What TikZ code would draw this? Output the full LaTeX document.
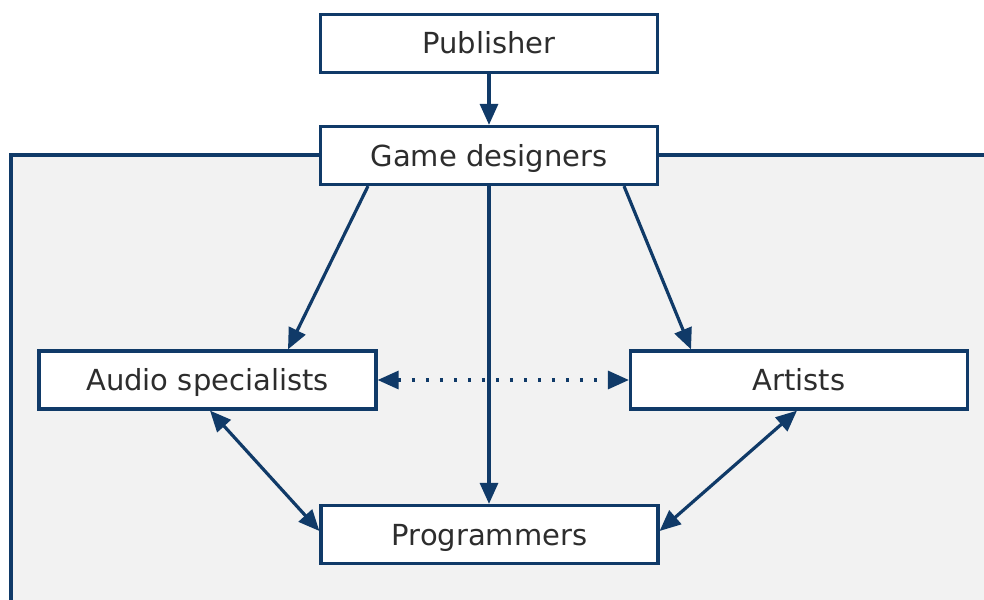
\documentclass[tikz,border=0pt]{standalone}
\usepackage{fontspec}
\setmainfont{DejaVu Sans}
\usetikzlibrary{arrows.meta}
\definecolor{navy}{RGB}{16,58,104}
\definecolor{panel}{RGB}{242,242,242}
\definecolor{ink}{RGB}{45,45,45}
\begin{document}
\begin{tikzpicture}[x=1pt,y=-1pt,
  role/.style={draw=navy, line width=3.2pt, fill=white, rectangle,
    minimum width=337pt, minimum height=58pt, inner sep=0pt,
    text height=22pt, text depth=1pt,
    text=ink, font=\fontsize{29}{33}\selectfont},
  tip/.tip={Triangle[length=21pt,width=18pt]},
  link/.style={draw=navy, line width=3.2pt, -tip},
  both/.style={draw=navy, line width=3.2pt, tip-tip}
]
\useasboundingbox (0,0) rectangle (984,599);
% studio panel behind the team
\fill[panel] (11,155) rectangle (990,605);
\draw[navy, line width=3.2pt] (990,155) -- (11,155) -- (11,605);

\node[role] (pub)  at (489,43.5)  {Publisher};
\node[role] (gd)   at (489,155.5) {Game designers};
\node[role] (aud)  at (207.5,380) {Audio specialists};
\node[role] (art)  at (799,380)   {Artists};
\node[role] (prog) at (489.5,534.5) {Programmers};

\draw[link] (pub.south) -- (gd.north);
\draw[link] ([xshift=-121pt]gd.south) -- ([xshift=80.5pt]aud.north);
\draw[link] ([xshift=135pt]gd.south) -- ([xshift=-108pt]art.north);
\draw[link] (gd.south) -- (prog.north -| gd.south);
\draw[both, dash pattern=on 3.5pt off 10.5pt] (aud.east) -- (art.west);
\draw[both] ([xshift=2.5pt]aud.south) -- ([yshift=3.5pt]prog.west);
\draw[both] ([xshift=-2pt]art.south) -- ([yshift=3.5pt]prog.east);
\end{tikzpicture}
\end{document}
